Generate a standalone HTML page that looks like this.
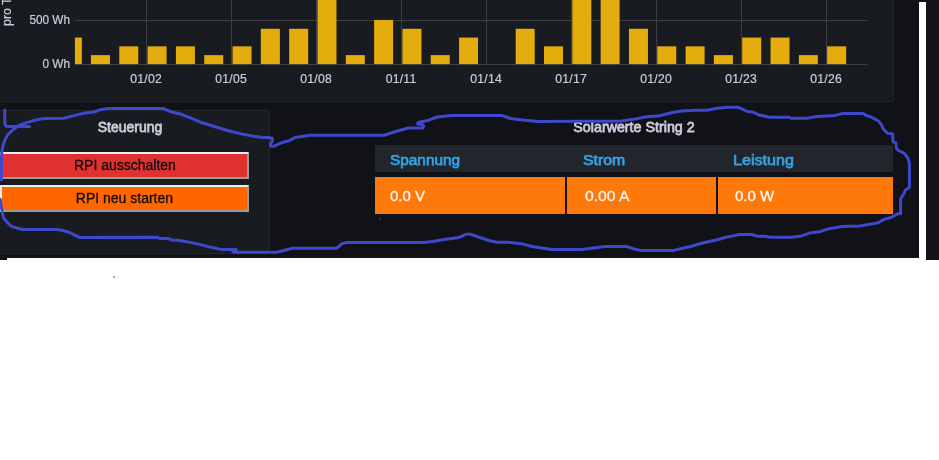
<!DOCTYPE html>
<html><head><meta charset="utf-8"><title>Dashboard</title>
<style>
html,body{margin:0;padding:0;}
body{width:939px;height:460px;background:#fff;position:relative;overflow:hidden;font-family:"Liberation Sans",sans-serif;}
.abs{position:absolute;}
.dark{background:#111217;}
.panel{background:#181b1f;border:1px solid #23262b;border-radius:2px;box-sizing:border-box;}
.yl{position:absolute;color:#ccccdc;font-size:12.4px;line-height:14px;text-align:right;width:60px;left:9.5px;transform:scaleX(0.95);transform-origin:100% 50%;-webkit-text-stroke:0.2px #ccccdc;}
.xl{position:absolute;color:#ccccdc;font-size:12.2px;line-height:14px;text-align:center;width:60px;top:72px;letter-spacing:0.25px;-webkit-text-stroke:0.2px #ccccdc;}
.title{position:absolute;color:#ccccdc;font-size:15.1px;line-height:16px;text-align:center;white-space:nowrap;transform:scaleX(0.925);transform-origin:50% 50%;-webkit-text-stroke:0.78px #ccccdc;}
.btn{position:absolute;box-sizing:border-box;border-style:solid;border-width:2px;border-color:#e9eeee #9b9b9b #9b9b9b #e9eeee;color:#0c0c0c;-webkit-text-stroke:0.3px #0c0c0c;font-size:15.1px;line-height:22.8px;text-align:center;height:27px;white-space:nowrap;}
.btn span{display:inline-block;transform:scaleX(0.927);}
.th{position:absolute;color:#33a2e5;font-size:15.2px;line-height:27px;top:145.9px;height:27px;white-space:nowrap;transform:scaleX(0.93);transform-origin:0 50%;-webkit-text-stroke:0.75px #33a2e5;}
.td{position:absolute;background:#ff780a;top:177px;height:37px;color:#f7f8fa;-webkit-text-stroke:0.3px #f7f8fa;font-size:15.2px;line-height:37.2px;box-sizing:border-box;white-space:nowrap;overflow:hidden;}
.sx{display:inline-block;transform:scaleX(0.985);transform-origin:0 50%;}
</style></head><body>
<div class="abs dark" style="left:0;top:0;width:919px;height:257.5px"></div>
<div class="abs dark" style="left:0;top:0;width:7px;height:259.5px"></div>
<div class="abs dark" style="left:919px;top:0;width:20px;height:2px"></div>
<div class="abs dark" style="left:926px;top:0;width:13px;height:259.5px"></div>

<!-- chart panel -->
<div class="abs panel" style="left:-4px;top:-10px;width:897.5px;height:111.5px"></div>
<svg class="abs" style="left:0;top:0" width="939" height="110" viewBox="0 0 939 110">
<g fill="#3c3e44" shape-rendering="crispEdges">
<rect x="75" y="20" width="793" height="1"/>
<rect x="75" y="64" width="793" height="1"/>
<rect x="146" y="0" width="1" height="64"/>
<rect x="231" y="0" width="1" height="64"/>
<rect x="316" y="0" width="1" height="64"/>
<rect x="401" y="0" width="1" height="64"/>
<rect x="486" y="0" width="1" height="64"/>
<rect x="571" y="0" width="1" height="64"/>
<rect x="656" y="0" width="1" height="64"/>
<rect x="741" y="0" width="1" height="64"/>
<rect x="826" y="0" width="1" height="64"/>
</g>
<g fill="#e5ac0e">
<rect x="74.90" y="37.56" width="6.95" height="26.54"/>
<rect x="90.97" y="55.12" width="19.00" height="8.98"/>
<rect x="119.28" y="46.34" width="19.00" height="17.76"/>
<rect x="147.60" y="46.34" width="19.00" height="17.76"/>
<rect x="175.91" y="46.34" width="19.00" height="17.76"/>
<rect x="204.23" y="55.12" width="19.00" height="8.98"/>
<rect x="232.55" y="46.34" width="19.00" height="17.76"/>
<rect x="260.86" y="28.78" width="19.00" height="35.32"/>
<rect x="289.18" y="28.78" width="19.00" height="35.32"/>
<rect x="317.49" y="-2.00" width="19.00" height="66.10"/>
<rect x="345.81" y="55.12" width="19.00" height="8.98"/>
<rect x="374.12" y="20.00" width="19.00" height="44.10"/>
<rect x="402.44" y="28.78" width="19.00" height="35.32"/>
<rect x="430.75" y="55.12" width="19.00" height="8.98"/>
<rect x="459.07" y="37.56" width="19.00" height="26.54"/>
<rect x="515.70" y="28.78" width="19.00" height="35.32"/>
<rect x="544.01" y="46.34" width="19.00" height="17.76"/>
<rect x="572.33" y="-2.00" width="19.00" height="66.10"/>
<rect x="600.64" y="-2.00" width="19.00" height="66.10"/>
<rect x="628.96" y="28.78" width="19.00" height="35.32"/>
<rect x="657.27" y="46.34" width="19.00" height="17.76"/>
<rect x="685.59" y="46.34" width="19.00" height="17.76"/>
<rect x="713.90" y="55.12" width="19.00" height="8.98"/>
<rect x="742.22" y="37.56" width="19.00" height="26.54"/>
<rect x="770.53" y="37.56" width="19.00" height="26.54"/>
<rect x="798.85" y="55.12" width="19.00" height="8.98"/>
<rect x="827.16" y="46.34" width="19.00" height="17.76"/>
</g>
</svg>
<div class="yl" style="top:12.6px">500 Wh</div>
<div class="yl" style="top:56.6px">0 Wh</div>
<div class="xl" style="left:116.10px">01/02</div>
<div class="xl" style="left:201.10px">01/05</div>
<div class="xl" style="left:286.10px">01/08</div>
<div class="xl" style="left:371.10px">01/11</div>
<div class="xl" style="left:456.10px">01/14</div>
<div class="xl" style="left:541.10px">01/17</div>
<div class="xl" style="left:626.10px">01/20</div>
<div class="xl" style="left:711.10px">01/23</div>
<div class="xl" style="left:796.10px">01/26</div>
<div class="abs" style="left:-0.3px;top:26px;width:14px;height:0;"><div style="position:absolute;left:0;top:0;transform-origin:0 0;transform:rotate(-90deg) scaleX(1.04);color:#ccccdc;font-size:11.9px;line-height:14px;white-space:nowrap;-webkit-text-stroke:0.2px #ccccdc;">pro Tag</div></div>

<!-- Steuerung panel -->
<div class="abs panel" style="left:-4px;top:110px;width:274px;height:144px"></div>
<div class="title" style="left:69.8px;top:119.3px;width:120px">Steuerung</div>
<div class="btn" style="left:0;top:152px;width:249px;background:#e03131"><span>RPI ausschalten</span></div>
<div class="btn" style="left:0;top:185px;width:249px;background:#ff6600"><span>RPI neu starten</span></div>

<!-- Solarwerte -->
<div class="title" style="left:533.8px;top:119.3px;width:200px;transform:scaleX(0.945)">Solarwerte String 2</div>
<div class="abs" style="left:375px;top:145px;width:518px;height:27px;background:#22252b"></div>
<div class="th" style="left:389.7px;transform:scaleX(1.012)">Spannung</div>
<div class="th" style="left:583.2px;transform:scaleX(1.04)">Strom</div>
<div class="th" style="left:732.6px;transform:scaleX(1.06)">Leistung</div>
<div class="td" style="left:375px;width:189.5px;padding-left:15px"><span class="sx">0.0 V</span></div>
<div class="td" style="left:566.5px;width:149.3px;padding-left:18px"><span class="sx" style="transform:scaleX(1.03)">0.00 A</span></div>
<div class="td" style="left:717.8px;width:175.2px;padding-left:17px"><span class="sx" style="transform:scaleX(0.99)">0.0 W</span></div>

<!-- scribble -->
<svg class="abs" style="left:0;top:0" width="939" height="460" viewBox="0 0 939 460" fill="none" stroke="#3f48cc" stroke-width="3" stroke-linecap="round" stroke-linejoin="round">
<path d="M4.7 110 L4.8 123.5 Q4.9 126.5 8 126.5 L29.5 126.5"/>
<path d="M1.5 180 L1.5 158 L1.8 152 L2.8 146.5 L4.8 140 L8 134.3 L13.2 129.5 L19.6 125.2 L27.4 122.4 L36.5 119.8 L44.3 118.5 L63.9 118.3 L73 115.9 L83.5 113.3 L93.9 112 L100.4 109.7 L108.3 108.5 L163 108.5 L170.9 111.7 L181.3 114.3 L191.7 118.3 L202.2 122.8 L215.2 126.7 L228.3 130.7 L241.3 133.9 L251.7 135.9 L263 137.6 L269.6 137.6 L272.4 138.5 L272.4 141.1 L270.6 143.7 L270.6 145.9 L273.5 146.3 L281.3 142.8 L289.1 140.7 L295 137.6 L302.2 136.5 L310 135.2 L384.1 135.2 L396.5 131.3 L408.3 128 L422.6 128 L423.7 126.1 L422.6 124.5 L417.4 123.7 L418.7 122.2 L429.1 120.2 L437 117 L451.3 115.4 L502 115.4 L510.4 118.5 L524.8 120.2 L537.8 121.5 L621.7 121.1 L632.2 119.6 L645.2 117 L659.6 115.7 L671.3 112.8 L681.7 111.1 L692.2 110.4 L697.8 110.2 L707 110.2 L716.1 108.5 L726.5 107.2 L737 107.2 L742.2 108.9 L747.4 111.5 L752.6 112 L759.1 115 L769.6 117.2 L789.1 117.2 L791.7 118.3 L806.5 118.3 L817 116.6 L835.2 115.4 L843 113.4 L863.3 113.4 L865.2 115 L871.1 117 L878.3 120.9 L881.5 124.8 L883.5 129.3 L887.4 133.3 L892.6 133.7 L892.9 141.7 L895.9 143 L896.5 148.3 L897.7 150 L904.2 153.3 L908 158.2 L909.4 163 L909.4 187.5 L905.8 189.7 L903.7 194 L900.6 198.8 L900.6 213.5 L898.2 213.7 L890.1 217.8 L884.7 219.1 L878.1 222.7 L872.7 223.8 L859.7 226 L849.9 226.3 L842.2 226.5 L829.1 228.7 L820 231.7 L810.9 232.7 L801.7 235.9 L791.3 237.3 L770.4 237.3 L763.9 236.3 L757.4 236.3 L752.2 234.5 L739.1 234.5 L730 236.6 L727 237 L716.5 240 L703.5 242.8 L690.4 246.5 L673.5 250.4 L640.2 250.4 L633 248.7 L626.5 246.5 L605.2 246.5 L593.5 248 L581.7 249.6 L551.7 249.6 L541.3 248 L532.2 246.5 L523 244.1 L508.3 242.2 L496.5 242.2 L488.7 240.5 L478.3 237 L471.1 234.3 L465.9 234.3 L458.7 237.6 L444.3 239.6 L432.6 241.5 L423.5 242.6 L346.1 242.6 L341.5 243.9 L338.9 246.5 L336.3 248.3 L292.6 248.3 L283 250.7 L276.5 252.2 L234.1 252.2 L232.2 250.7 L236.1 249.6 L221.7 249.6 L210 247 L198.3 244.1 L187.8 241.9 L178.3 240.2 L173 240.2 L167.8 238.5 L160 238.5 L157.4 237.3 L79.3 237.4 L75 235.2 L69.6 232.5 L62 230.3 L56.5 229.5 L22.8 229.5 L17.4 228.2 L10.9 226 L6.5 221.6 L3.3 217.3 L2.2 211.3 L1.1 205.9 L0.3 199.5"/>
<rect x="113.6" y="276.3" width="1.4" height="1.4" fill="#3f48cc" stroke="none"/>
<rect x="379.3" y="218.3" width="1.4" height="1.4" fill="#3f48cc" stroke="none"/>
</svg>
</body></html>
